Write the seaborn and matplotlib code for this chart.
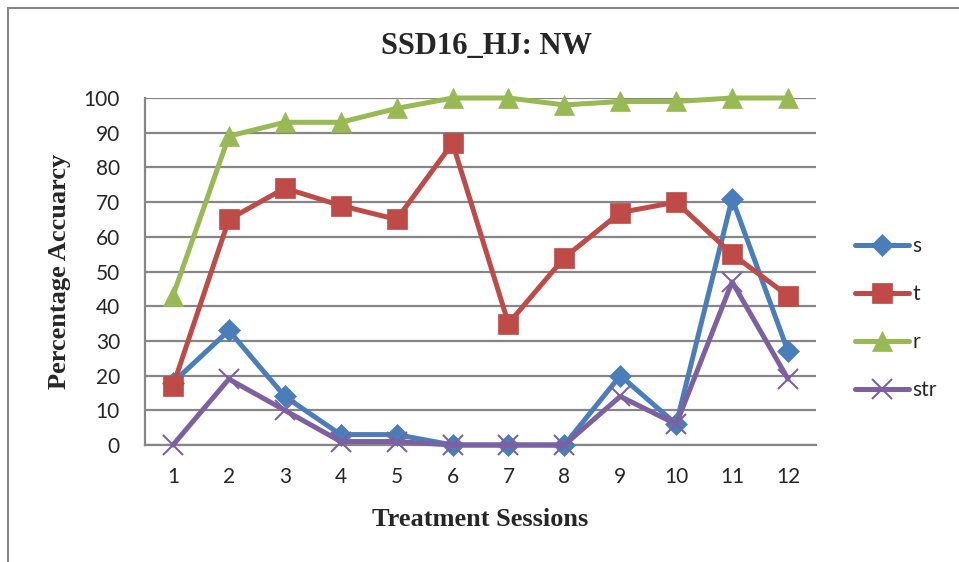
import matplotlib
matplotlib.use("Agg")
import matplotlib.pyplot as plt
from matplotlib.lines import Line2D
import seaborn as sns
import pandas as pd

sessions = [1, 2, 3, 4, 5, 6, 7, 8, 9, 10, 11, 12]
s_vals = [18, 33, 14, 3, 3, 0, 0, 0, 20, 6, 71, 27]
t_vals = [17, 65, 74, 69, 65, 87, 35, 54, 67, 70, 55, 43]
r_vals = [43, 89, 93, 93, 97, 100, 100, 98, 99, 99, 100, 100]
str_vals = [0, 19, 10, 1, 1, 0, 0, 0, 14, 6, 47, 19]
series_names = ["s", "t", "r", "str"]
y_ticks = [0, 10, 20, 30, 40, 50, 60, 70, 80, 90, 100]

colors = ["#4A7EBB", "#BE4B48", "#98B954", "#7D60A0"]
markers = ["D", "s", "^", "x"]
msizes = [11, 15, 15, 14]

sns.set_style("white")
plt.rcParams["font.family"] = ["Lato", "DejaVu Sans"]

fig = plt.figure(figsize=(9.59, 5.62), dpi=100)
ax = fig.add_axes([145 / 959, 1 - 445 / 562, 671 / 959, 347 / 562])

all_vals = [s_vals, t_vals, r_vals, str_vals]
for i, (name, vals) in enumerate(zip(series_names, all_vals)):
    df = pd.DataFrame({"session": sessions, "value": vals})
    sns.lineplot(data=df, x="session", y="value", ax=ax, color=colors[i],
                 marker=markers[i], markersize=msizes[i],
                 markeredgecolor=colors[i], markeredgewidth=1.5 if markers[i] == "x" else 0.5,
                 linewidth=3.6, clip_on=False, zorder=3 + i, label=name)

ax.set_xlim(0.5, 12.5)
ax.set_ylim(0, 100)
ax.set_xticks(sessions)
ax.set_xticklabels([str(v) for v in sessions])
ax.set_yticks(y_ticks)
ax.set_yticklabels([str(v) for v in y_ticks])
ax.yaxis.grid(True, color="#868686", linewidth=1.6)
ax.xaxis.grid(False)
ax.tick_params(axis="both", length=0, labelsize=15)
ax.tick_params(axis="y", pad=18)
ax.tick_params(axis="x", pad=16)
for side in ["top", "right"]:
    ax.spines[side].set_visible(False)
for side in ["left", "bottom"]:
    ax.spines[side].set_color("#868686")
    ax.spines[side].set_linewidth(1.6)

ax.set_xlabel("Treatment Sessions", fontsize=19, fontweight="bold",
              family=["Liberation Serif"], va="center")
ax.set_ylabel("Percentage Accuarcy", fontsize=19, fontweight="bold",
              family=["Liberation Serif"], va="center")
ax.xaxis.set_label_coords((480 - 145) / 671, (445 - 519) / 347)
ax.yaxis.set_label_coords((60 - 145) / 671, 0.5)

fig.text(486 / 959, 1 - 47 / 562, "SSD16_HJ: NW", fontsize=22, fontweight="bold",
         family=["Liberation Serif"], ha="center", va="center")

handles, labels = ax.get_legend_handles_labels()
leg = ax.legend(handles, labels, loc="center left",
                bbox_to_anchor=(855 / 959, 1 - 318 / 562), bbox_transform=fig.transFigure,
                frameon=False, fontsize=15, handlelength=2.6, labelspacing=1.35,
                handletextpad=0.15, borderpad=0, borderaxespad=0)

fig.add_artist(Line2D([8 / 959, 8 / 959], [0, 1 - 8 / 562], color="#868686",
                      linewidth=1.5, transform=fig.transFigure))
fig.add_artist(Line2D([8 / 959, 1], [1 - 8 / 562, 1 - 8 / 562], color="#868686",
                      linewidth=1.5, transform=fig.transFigure))

fig.savefig("out.png", dpi=100, facecolor="white")
